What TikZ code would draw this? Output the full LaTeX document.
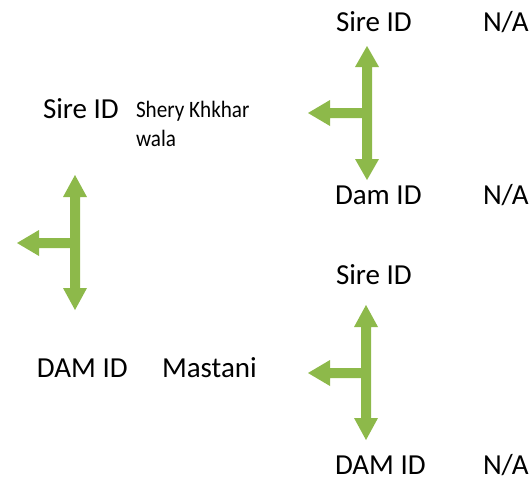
\documentclass[tikz,border=0pt]{standalone}
\usepackage{fontspec}
\setmainfont{Carlito}
\newfontfamily\narrowfont[FakeStretch=0.9]{Carlito}
\definecolor{arrowgreen}{RGB}{141,185,74}
\tikzset{
  lbl/.style={anchor=base west, inner sep=0pt, outer sep=0pt, font=\fontsize{29}{34}\selectfont, text=black},
  small/.style={anchor=base west, inner sep=0pt, outer sep=0pt, font=\narrowfont\fontsize{23.5}{29}\selectfont, text=black},
  tarr/.style={fill=arrowgreen, draw=none}
}
% cx, top tip, top base, bottom base, bottom tip, cy, left tip, left base
\newcommand\tarrow[8]{%
  \fill[tarr] (#1,#2) -- (#1+12,#3) -- (#1+5,#3) -- (#1+5,#4) -- (#1+12,#4) -- (#1,#5)
   -- (#1-12,#4) -- (#1-5,#4) -- (#1-5,#6+5) -- (#8,#6+5) -- (#8,#6+13) -- (#7,#6)
   -- (#8,#6-13) -- (#8,#6-5) -- (#1-5,#6-5) -- (#1-5,#3) -- (#1-12,#3) -- cycle;}
\begin{document}
\begin{tikzpicture}[x=1pt,y=-1pt]
\useasboundingbox (0,0) rectangle (531,482);
% arrows
\tarrow{75}{175}{197}{288}{310}{243}{17}{39}
\tarrow{367}{46}{67}{159}{180}{113}{308}{330}
\tarrow{366}{305}{327}{418}{440}{373}{308}{330}
% texts
\node[lbl] (s1) at (336,31) {Sire ID};
\node[lbl] (n1) at (483,31) {N/A};
\node[lbl] (s0) at (43,118) {Sire ID};
\node[small] (sk) at (136,117) {Shery Khkhar};
\node[small] (sk2) at (136,146) {wala};
\node[lbl] (d1) at (335,204) {Dam ID};
\node[lbl] (n2) at (483,204) {N/A};
\node[lbl] (s2) at (336,284) {Sire ID};
\node[lbl] (d0) at (37,377) {DAM ID};
\node[lbl] (m0) at (162,377) {Mastani};
\node[lbl] (d2) at (335,474) {DAM ID};
\node[lbl] (n3) at (483,474) {N/A};
\end{tikzpicture}
\end{document}
